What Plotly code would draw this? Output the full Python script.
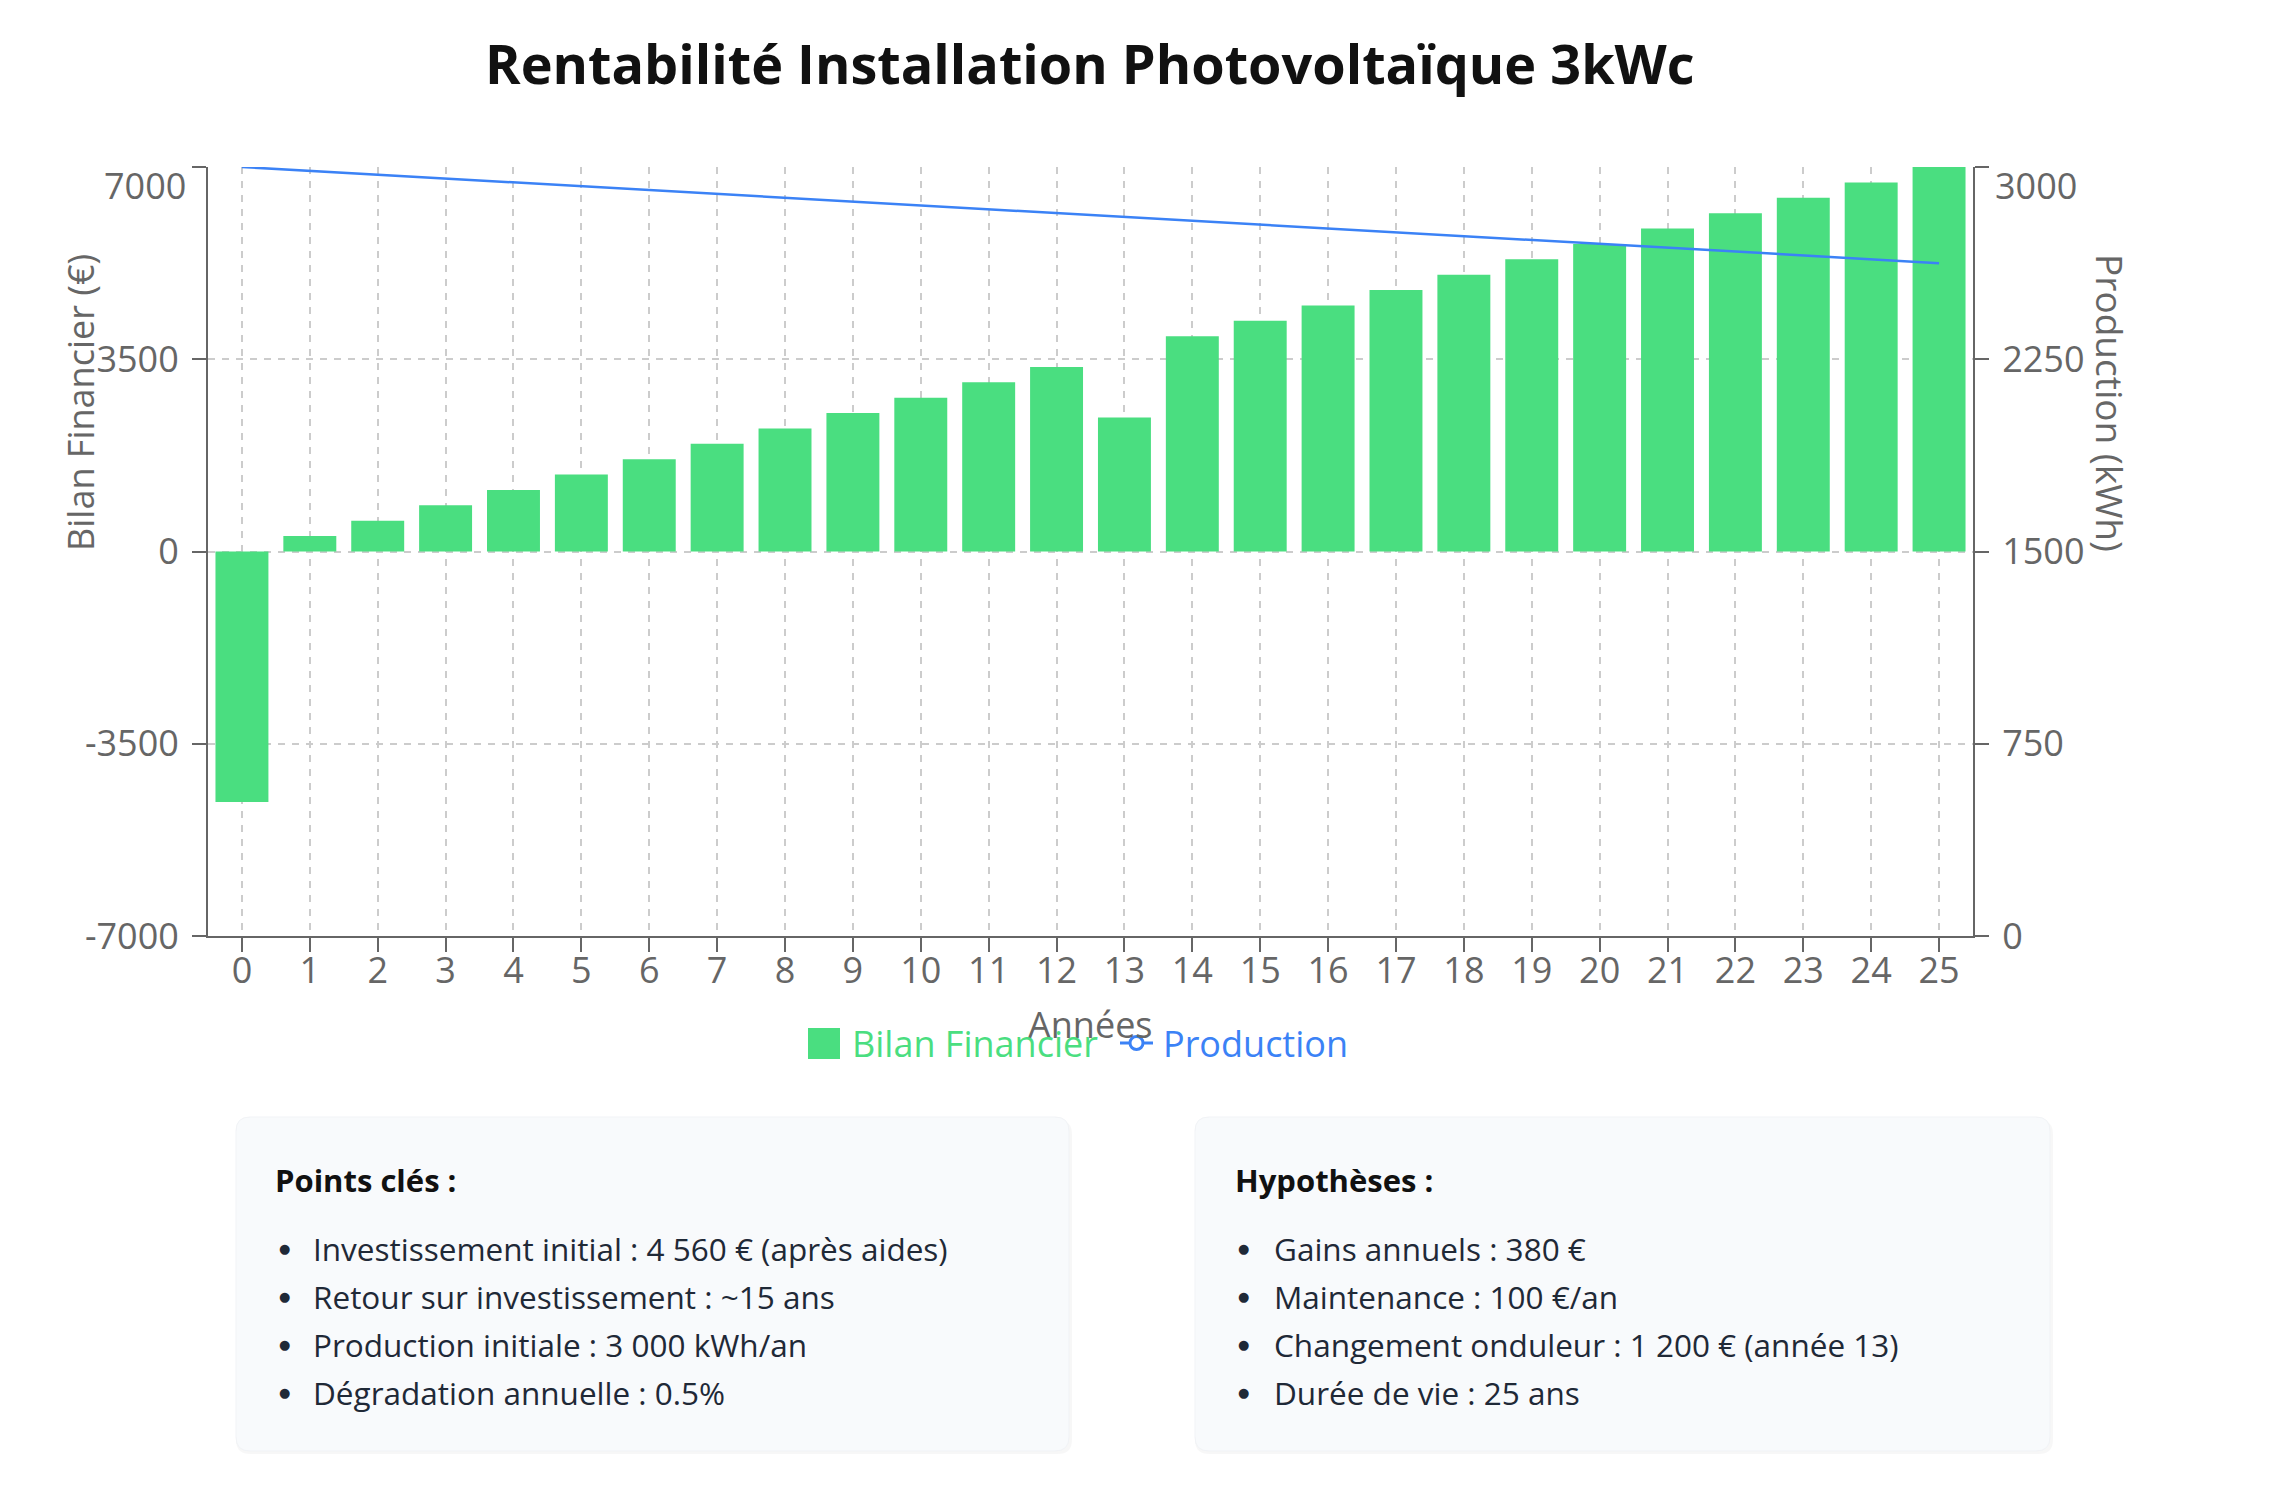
import plotly.graph_objects as go

# ---------------- data ----------------
years = list(range(0, 26))
bilan = [-4560, 280, 560, 840, 1120, 1400, 1680, 1960, 2240, 2520, 2800, 3080, 3360,
         2440, 3920, 4200, 4480, 4760, 5040, 5320, 5600, 5880, 6160, 6440, 6720, 7000]
production = [3000, 2985, 2970, 2955, 2940, 2925, 2910, 2895, 2880, 2865, 2850, 2835, 2820,
              2805, 2790, 2775, 2760, 2745, 2730, 2715, 2700, 2685, 2670, 2655, 2640, 2625]
left_ticks = [-7000, -3500, 0, 3500, 7000]
right_ticks = [0, 750, 1500, 2250, 3000]

title = "Rentabilité Installation Photovoltaïque 3kWc"
key_title = "Points clés :"
key_points = ["Investissement initial : 4 560 € (après aides)",
              "Retour sur investissement : ~15 ans",
              "Production initiale : 3 000 kWh/an",
              "Dégradation annuelle : 0.5%"]
hyp_title = "Hypothèses :"
hypotheses = ["Gains annuels : 380 €",
              "Maintenance : 100 €/an",
              "Changement onduleur : 1 200 € (année 13)",
              "Durée de vie : 25 ans"]

# ---------------- styling ----------------
W, H = 2280, 1500
L, R, T, B = 208, 1973, 167, 936
PW, PH = R - L, B - T
GREEN = "#4ade80"
BLUE = "#3b82f6"
GRAY = "#666666"
GRID = "#cccccc"
FONT = "Open Sans"
TXT = "#1f2937"


def px(x):
    return (x - L) / PW


def py(y):
    return (B - y) / PH


fig = go.Figure()
fig.add_trace(go.Bar(x=years, y=bilan, marker=dict(color=GREEN, line=dict(width=0)),
                     name="Bilan Financier", showlegend=False))
fig.add_trace(go.Scatter(x=years, y=production, yaxis="y2", mode="lines",
                         line=dict(color=BLUE, width=2.5), name="Production",
                         showlegend=False))

axis_common = dict(showline=True, linecolor=GRAY, linewidth=2, ticks="outside",
                   ticklen=14, tickwidth=2, tickcolor=GRAY,
                   tickfont=dict(family=FONT, size=36, color=GRAY), zeroline=False)

fig.update_layout(
    width=W, height=H,
    margin=dict(l=L, r=W - R, t=T, b=H - B, pad=0),
    paper_bgcolor="white", plot_bgcolor="white",
    bargap=0.22,
    showlegend=False,
    font=dict(family=FONT, color=GRAY),
    xaxis=dict(range=[-0.5, 25.5], tickvals=years, ticktext=[str(v) for v in years],
               showgrid=True, gridcolor=GRID, griddash="7px,7px", gridwidth=1.5,
               ticklabelstandoff=-12, **axis_common),
    yaxis=dict(range=[-7000, 7000], tickvals=left_ticks,
               ticktext=[str(v) if v != 7000 else "" for v in left_ticks],
               showgrid=True, gridcolor=GRID, griddash="7px,7px", gridwidth=1.5,
               ticklabelstandoff=6, **axis_common),
    yaxis2=dict(range=[0, 3000], tickvals=right_ticks,
                ticktext=[str(v) if v != 3000 else "" for v in right_ticks],
                overlaying="y", side="right", showgrid=False,
                ticklabelstandoff=6, **axis_common),
)

ann = []
# title
ann.append(dict(text=f"<b>{title}</b>", x=px(1090), y=py(63), xref="paper", yref="paper",
                xanchor="center", yanchor="middle", showarrow=False,
                font=dict(family=FONT, size=54, color="#111111")))
# shifted top tick labels
ann.append(dict(text="7000", x=0, y=7000, xref="paper", yref="y", xanchor="right",
                yanchor="middle", xshift=-20, yshift=-18, showarrow=False,
                font=dict(family=FONT, size=36, color=GRAY)))
ann.append(dict(text="3000", x=1, y=3000, xref="paper", yref="y2", xanchor="left",
                yanchor="middle", xshift=20, yshift=-18, showarrow=False,
                font=dict(family=FONT, size=36, color=GRAY)))
# axis titles
ann.append(dict(text="Bilan Financier (€)", x=px(80), y=py(403), xref="paper", yref="paper",
                textangle=-90, xanchor="center", yanchor="middle", showarrow=False,
                font=dict(family=FONT, size=36, color=GRAY)))
ann.append(dict(text="Production (kWh)", x=px(2111), y=py(403), xref="paper", yref="paper",
                textangle=90, xanchor="center", yanchor="middle", showarrow=False,
                font=dict(family=FONT, size=37, color=GRAY)))
ann.append(dict(text="Années", x=px(1090), y=py(1024), xref="paper", yref="paper",
                xanchor="center", yanchor="middle", showarrow=False,
                font=dict(family=FONT, size=36, color=GRAY)))
# legend texts
ann.append(dict(text="Bilan Financier", x=px(850), y=py(1043), xref="paper", yref="paper",
                xanchor="left", yanchor="middle", showarrow=False,
                font=dict(family=FONT, size=36, color=GREEN)))
ann.append(dict(text="Production", x=px(1161), y=py(1043), xref="paper", yref="paper",
                xanchor="left", yanchor="middle", showarrow=False,
                font=dict(family=FONT, size=36, color=BLUE)))


def box_path(x0, y0, x1, y1, r=14):
    X0, X1 = px(x0), px(x1)
    Y0, Y1 = py(y0), py(y1)
    rx, ry = r / PW, r / PH
    return (f"M {X0+rx},{Y0} L {X1-rx},{Y0} Q {X1},{Y0} {X1},{Y0-ry} "
            f"L {X1},{Y1+ry} Q {X1},{Y1} {X1-rx},{Y1} L {X0+rx},{Y1} "
            f"Q {X0},{Y1} {X0},{Y1+ry} L {X0},{Y0-ry} Q {X0},{Y0} {X0+rx},{Y0} Z")


shapes = []
# legend icons
shapes.append(dict(type="rect", xref="paper", yref="paper", x0=px(808), x1=px(840),
                   y0=py(1059), y1=py(1028), fillcolor=GREEN, line=dict(width=0)))
shapes.append(dict(type="line", xref="paper", yref="paper", x0=px(1120), x1=px(1153),
                   y0=py(1043), y1=py(1043), line=dict(color=BLUE, width=3)))
shapes.append(dict(type="circle", xref="paper", yref="paper", x0=px(1130), x1=px(1143),
                   y0=py(1049.5), y1=py(1036.5), fillcolor="white",
                   line=dict(color=BLUE, width=3)))

boxes = [
    (236, 1117, 1069, 1451, key_title, key_points, 273, 284, 311),
    (1195, 1117, 2050, 1451, hyp_title, hypotheses, 1233, 1243, 1272),
]
for (x0, y0, x1, y1, head, items, hx, bx, tx) in boxes:
    shapes.append(dict(type="path", xref="paper", yref="paper",
                       path=box_path(x0, y0 + 3, x1 + 3, y1 + 3),
                       fillcolor="rgba(0,0,0,0.03)", line=dict(width=0), layer="below"))
    shapes.append(dict(type="path", xref="paper", yref="paper", path=box_path(x0, y0, x1, y1),
                       fillcolor="#f8fafc", line=dict(color="#f1f3f6", width=1), layer="below"))
    ann.append(dict(text=f"<b>{head}</b>", x=px(hx), y=py(1180), xref="paper", yref="paper",
                    xanchor="left", yanchor="middle", showarrow=False,
                    font=dict(family=FONT, size=31, color="#111111")))
    for i, item in enumerate(items):
        yy = 1248 + 48 * i
        ann.append(dict(text="●", x=px(bx), y=py(yy), xref="paper", yref="paper",
                        xanchor="center", yanchor="middle", showarrow=False,
                        font=dict(family="DejaVu Sans", size=13, color=TXT)))
        ann.append(dict(text=item, x=px(tx), y=py(yy), xref="paper", yref="paper",
                        xanchor="left", yanchor="middle", showarrow=False,
                        font=dict(family=FONT, size=31.5, color=TXT)))

fig.update_layout(annotations=ann, shapes=shapes)

fig.write_html("out.html", config={"displayModeBar": False},
               post_script="document.body.style.margin='0';document.body.style.overflow='hidden';")
